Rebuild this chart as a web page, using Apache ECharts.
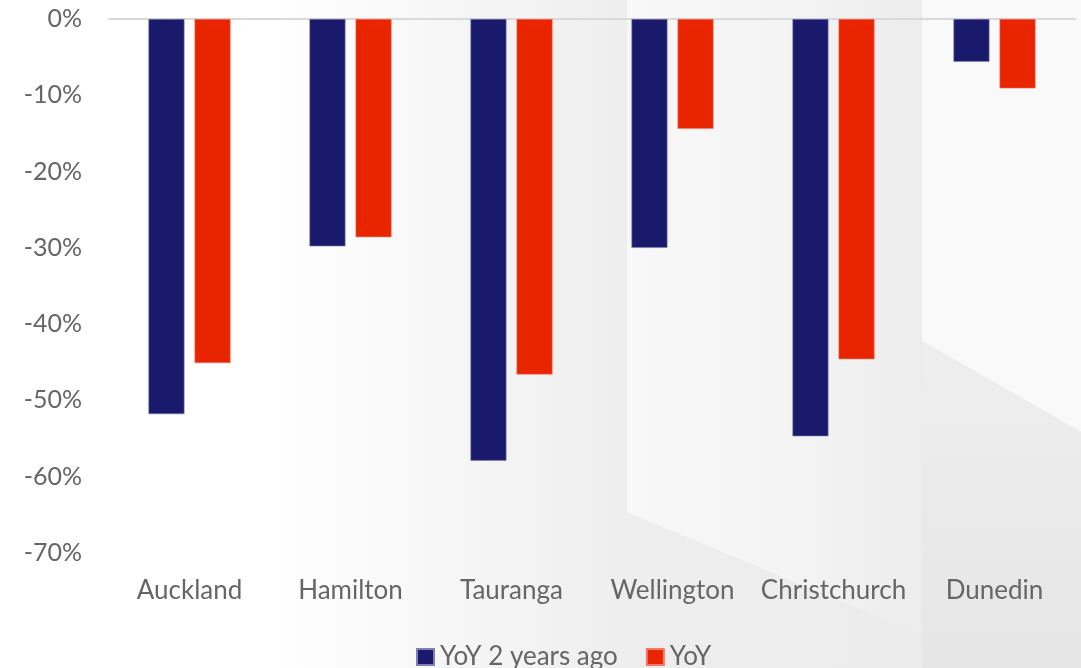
<!DOCTYPE html>
<html>
<head>
<meta charset="utf-8">
<script src="https://cdn.jsdelivr.net/npm/echarts@6/dist/echarts.min.js"></script>
<style>
html,body{margin:0;padding:0;background:#fff;}
#chart{width:1081px;height:668px;}
</style>
</head>
<body>
<div id="chart"></div>
<script>
const categories = ['Auckland', 'Hamilton', 'Tauranga', 'Wellington', 'Christchurch', 'Dunedin'];
const yoy2YearsAgo = [-51.8, -29.8, -57.9, -30.0, -54.7, -5.6];
const yoy = [-45.1, -28.6, -46.6, -14.4, -44.6, -9.1];
const seriesNames = ['YoY 2 years ago', 'YoY'];
const yMin = -70, yMax = 0, yStep = 10;

const FONT = 'Lato';
const chart = echarts.init(document.getElementById('chart'), null, {renderer: 'canvas'});

const option = {
  backgroundColor: '#ffffff',
  animation: false,
  graphic: [
    { type: 'rect', z: -10, silent: true, shape: {x: 0, y: 0, width: 1081, height: 668},
      style: { fill: new echarts.graphic.LinearGradient(0, 0, 1, 0, [
        {offset: 0, color: '#ffffff'}, {offset: 0.25, color: '#ffffff'},
        {offset: 0.42, color: '#f6f6f6'}, {offset: 0.58, color: '#eeeeee'}, {offset: 1, color: '#eaeaea'}]) } },
    { type: 'polygon', z: -9, silent: true,
      shape: {points: [[627, 0], [1081, 0], [1081, 668], [1000, 668], [627, 512]]},
      style: { fill: new echarts.graphic.LinearGradient(627, 0, 922, 0, [
        {offset: 0, color: '#f8f8f8'}, {offset: 0.55, color: '#f4f4f4'}, {offset: 1, color: '#ececec'}], true) } },
    { type: 'polygon', z: -8, silent: true,
      shape: {points: [[922, 0], [1081, 0], [1081, 432], [922, 341]]},
      style: { fill: '#f9f9f9' } },
    { type: 'polygon', z: -8, silent: true,
      shape: {points: [[922, 341], [1081, 432], [1081, 668], [922, 668]]},
      style: { fill: new echarts.graphic.LinearGradient(0, 0, 0, 1, [
        {offset: 0, color: '#eeeeee'}, {offset: 1, color: '#e6e6e6'}]) } }
  ],
  grid: { left: 109, right: 6, top: 19, bottom: 115, containLabel: false },
  legend: {
    data: seriesNames,
    left: 411, top: 639,
    itemWidth: 17, itemHeight: 16, itemGap: 28,
    icon: 'rect',
    textStyle: { fontFamily: FONT, fontSize: 26, color: '#666666', padding: [0, 0, 0, 1] }
  },
  xAxis: [{
    type: 'category',
    data: categories,
    position: 'top',
    axisLine: { show: true, lineStyle: { color: '#d9d9d9', width: 2 } },
    axisTick: { show: false },
    axisLabel: { show: false }
  }, {
    type: 'category', data: categories, position: 'bottom',
    axisLine: { show: false }, axisTick: { show: false },
    axisLabel: { interval: 0, margin: 25, fontFamily: FONT, fontSize: 26, color: '#666666' }
  }],
  yAxis: {
    type: 'value',
    min: yMin, max: yMax, interval: yStep,
    axisLine: { show: false },
    axisTick: { show: false },
    splitLine: { show: false },
    axisLabel: {
      margin: 27,
      fontFamily: FONT, fontSize: 25, color: '#666666',
      formatter: v => v + '%'
    }
  },
  series: [
    { name: seriesNames[0], type: 'bar', data: yoy2YearsAgo, barWidth: 36, barGap: '28%',
      itemStyle: { color: '#1a1a6c', borderColor: '#7f7fb0', borderWidth: 0.6 } },
    { name: seriesNames[1], type: 'bar', data: yoy, barWidth: 36, barGap: '28%',
      itemStyle: { color: '#e92500', borderColor: '#f27a6a', borderWidth: 0.6 } }
  ]
};
chart.setOption(option);
</script>
</body>
</html>
